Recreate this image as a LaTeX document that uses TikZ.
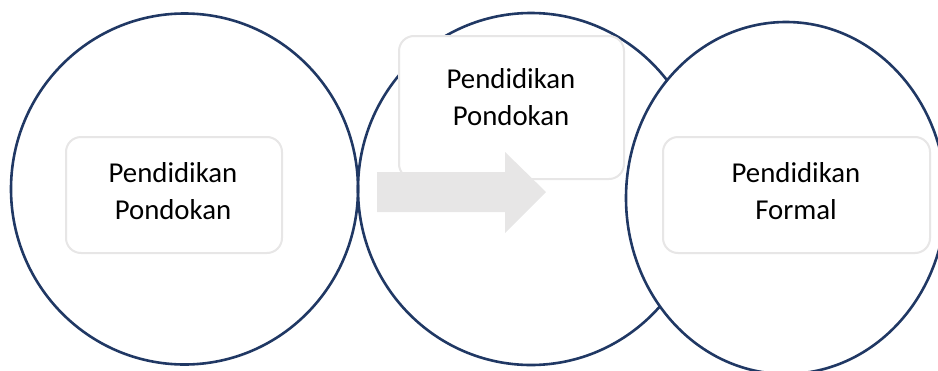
\documentclass[tikz,border=0pt]{standalone}
\usepackage{fontspec}
\setmainfont{Carlito}
\definecolor{navy}{RGB}{32,56,100}
\definecolor{lgrey}{RGB}{231,230,230}
\tikzset{
  ring/.style={draw=navy, line width=2.6pt},
  card/.style={draw=lgrey, line width=2pt, fill=white, rounded corners=15pt, inner sep=0pt},
  lbl/.style={align=center, inner sep=0pt, font=\fontsize{28.8}{37.5}\selectfont, text=black},
  bigarrow/.style={fill=lgrey, draw=none}
}
\begin{document}
\begin{tikzpicture}[x=1pt,y=-1pt]
\useasboundingbox (0,0) rectangle (938,370);
% circles
\draw[ring] (184.5,189) ellipse [x radius=173.5, y radius=175.5];
\draw[ring] (531,189) ellipse [x radius=173, y radius=176];
\draw[ring, fill=white] (786,198) ellipse [x radius=160, y radius=176];
% cards
\node[card, minimum width=216pt, minimum height=116pt] (b1) at (174,195) {};
\node[card, minimum width=225pt, minimum height=143pt] (b2) at (511.5,107.5) {};
\node[card, minimum width=267pt, minimum height=116pt] (b3) at (796.5,195) {};
% arrow
\coordinate (a1) at (377,172);
\coordinate (a2) at (505,172);
\coordinate (a3) at (505,152);
\coordinate (a4) at (546,192);
\coordinate (a5) at (505,233);
\coordinate (a6) at (505,212);
\coordinate (a7) at (377,212);
\fill[bigarrow] (a1) -- (a2) -- (a3) -- (a4) -- (a5) -- (a6) -- (a7) -- cycle;
% labels
\node[lbl] (t1) at (173,191) {Pendidikan\\Pondokan};
\node[lbl] (t2) at (511,97) {Pendidikan\\Pondokan};
\node[lbl] (t3) at (796,191) {Pendidikan\\Formal};
\end{tikzpicture}
\end{document}
